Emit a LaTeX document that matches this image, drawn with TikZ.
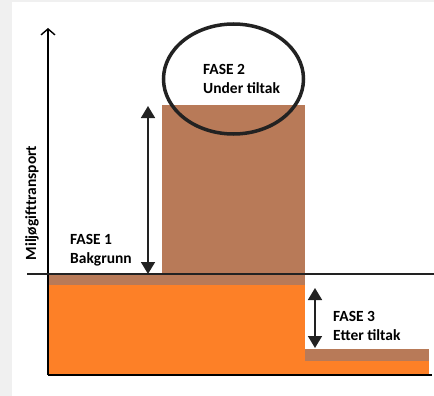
\documentclass[tikz,border=0pt]{standalone}
\usepackage{fontspec}
\setmainfont{Carlito}
\usetikzlibrary{arrows.meta,shapes.geometric}
\definecolor{brownbar}{RGB}{184,122,88}
\definecolor{orangebar}{RGB}{253,128,39}
\definecolor{darkline}{RGB}{34,34,34}
\definecolor{pagegray}{RGB}{240,240,240}
\tikzset{
  lbl/.style={font=\bfseries\fontsize{15.5}{19}\selectfont, align=left, anchor=west, inner sep=0pt, text=black},
  dblarrow/.style={draw=darkline, line width=1.6pt, {Triangle[length=12pt,width=14pt]}-{Triangle[length=12pt,width=14pt]}},
  axisline/.style={draw=black, line width=1.4pt}
}
\begin{document}
\begin{tikzpicture}[x=1pt,y=-1pt]
\useasboundingbox (0,0) rectangle (434,396);
\fill[pagegray] (0,0) rectangle (434,396);
\fill[white] (12,2) rectangle (434,396);
% bars
\fill[orangebar] (48,274) rectangle (305,375);
\fill[brownbar] (48,274) rectangle (305,285);
\fill[brownbar] (162,105) rectangle (305,274);
\fill[orangebar] (305,361) rectangle (429,375);
\fill[brownbar] (305,349) rectangle (429,361);
% axes
\coordinate (ytop) at (48,28);
\coordinate (origin) at (48,375);
\coordinate (xend) at (432,375);
\draw[axisline, -{Straight Barb[length=6pt,width=14pt]}] (origin) -- (ytop);
\draw[axisline] (origin) -- (xend);
\coordinate (bl) at (27,274);
\coordinate (br) at (434,274);
\draw[draw=darkline, line width=1.6pt] (bl) -- (br);
% ellipse
\node[draw=darkline, line width=3.5pt, ellipse, minimum width=140pt, minimum height=110pt, inner sep=0pt] (oval) at (233.5,79) {};
% arrows
\coordinate (a1t) at (148,106);
\coordinate (a1b) at (148,274);
\draw[dblarrow] (a1t) -- (a1b);
\coordinate (a3t) at (315,288);
\coordinate (a3b) at (315,348);
\draw[dblarrow] (a3t) -- (a3b);
% labels
\node[lbl] (f2) at (203,79) {FASE 2\\Under tiltak};
\node[lbl] (f1) at (70,250) {FASE 1\\Bakgrunn};
\node[lbl] (f3) at (333,326) {FASE 3\\Etter tiltak};
\node[font=\bfseries\fontsize{15.5}{18}\selectfont, rotate=90, inner sep=0pt] (ylab) at (32,203) {Miljøgifttransport};
\end{tikzpicture}
\end{document}
